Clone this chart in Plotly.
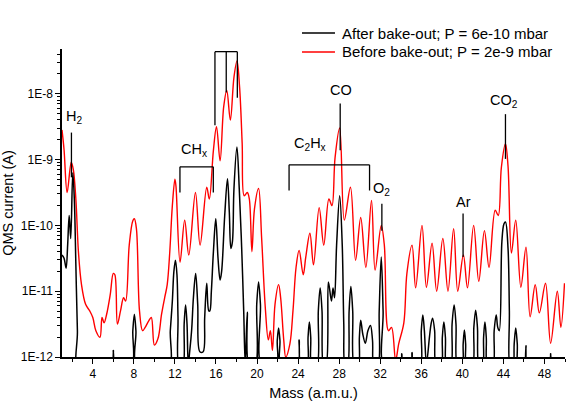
import plotly.graph_objects as go

# ---------------- data (mass in a.m.u., log10 of QMS current in A) ----------------
before_mass = [1.0, 1.2, 1.5, 1.9, 2.1, 2.35, 2.6, 2.9, 3.3, 3.7, 4.0, 4.3, 4.7, 4.9, 5.1, 5.35,
               5.7, 6.0, 6.15, 6.4, 6.7, 7.0, 7.2, 7.55, 7.9, 8.05, 8.25, 8.55, 8.85, 9.1, 9.45,
               9.7, 10.0, 10.35, 10.7, 11.0, 11.25, 11.5, 11.75, 12.0, 12.1, 12.5, 12.95, 13.35,
               14.0, 14.45, 15.1, 15.35, 15.75, 16.05, 16.4, 16.75, 17.05, 17.4, 17.75, 18.05,
               18.3, 18.55, 18.75, 19.05, 19.25, 19.5, 19.75, 20.15, 20.45, 20.8, 21.1, 21.3,
               21.5, 21.75, 22.1, 22.3, 22.6, 22.8, 23.2, 23.5, 23.8, 24.1, 24.5, 24.75, 25.15,
               25.5, 26.05, 26.5, 27.0, 27.3, 27.6, 28.05, 28.5, 29.1, 29.6, 30.1, 30.6, 31.15,
               31.5, 32.1, 32.4, 32.8, 33.1, 33.5, 33.8, 34.3, 34.6, 35.1, 35.45, 36.07, 36.5,
               37.05, 37.5, 38.1, 38.6, 39.15, 39.55, 40.1, 40.5, 41.1, 41.6, 42.15, 42.6, 43.2,
               43.5, 43.8, 44.2, 44.45, 44.78, 45.2, 45.7, 46.2, 46.6, 47.1, 47.5, 48.1, 48.6,
               49.25, 49.6, 49.95]
before_log_current = [-8.55, -8.85, -9.5, -9.04, -9.15, -9.6, -10.4, -10.9, -11.2, -11.3, -11.4,
                      -11.6, -11.7, -11.4, -11.48, -11.35, -11.05, -10.73, -10.75, -11.5, -11.3,
                      -11.1, -11.15, -10.3, -9.93, -9.9, -10.05, -11.3, -11.6, -11.55, -11.45,
                      -11.4, -11.82, -11.72, -11.35, -11.1, -10.9, -10.4, -9.7, -9.3, -9.4,
                      -10.56, -9.92, -10.45, -9.5, -10.3, -9.42, -9.6, -8.86, -8.5, -9.02, -8.2,
                      -7.95, -8.4, -7.75, -7.5, -7.9, -8.75, -9.55, -9.5, -9.6, -10.4, -9.75,
                      -9.44, -10.2, -11.24, -11.74, -11.6, -11.9, -11.2, -10.9, -11.1, -11.74,
                      -12.0, -11.8, -11.3, -10.64, -10.38, -10.75, -10.48, -10.12, -10.6, -9.73,
                      -10.3, -9.6, -9.7, -8.97, -8.52, -9.92, -9.42, -10.53, -9.88, -10.64,
                      -9.62, -10.68, -10.0, -10.3, -11.6, -11.55, -12.05, -11.8, -11.48, -10.73,
                      -10.3, -10.95, -10.0, -10.94, -10.27, -11.0, -10.2, -11.0, -10.05, -11.0,
                      -10.45, -10.95, -10.0, -10.85, -10.08, -10.64, -9.77, -9.85, -9.12, -8.76,
                      -9.1, -10.42, -9.92, -10.94, -10.33, -11.39, -10.9, -11.33, -10.88, -11.79,
                      -11.0, -11.55, -10.88]

after_mass = [1.0, 1.2, 1.4, 1.55, 1.7, 1.85, 2.05, 2.2, 2.35, 2.5, 2.65,
              5.85, 6.0, 6.15,
              7.75, 7.9, 8.05, 8.2, 8.35,
              11.35, 11.55, 11.75, 11.9, 12.05, 12.2, 12.3, 12.42,
              12.75, 12.9, 13.04, 13.18, 13.3,
              13.45, 13.63, 13.8, 14.02, 14.22, 14.43, 14.75, 14.9, 15.1, 15.3, 15.4, 15.55,
              15.75, 15.98, 16.2, 16.4, 16.55, 16.85, 17.12, 17.3, 17.45, 17.6, 17.75, 18.04,
              18.27, 18.5, 18.7, 18.85, 19.05, 19.25,
              19.8, 19.97, 20.15, 20.33, 20.5,
              21.85, 21.97, 22.1, 22.23, 22.35,
              23.9, 24.1, 24.3,
              24.85, 24.97, 25.1, 25.23, 25.35,
              25.8, 25.97, 26.15, 26.33, 26.5,
              26.7, 26.95, 27.25, 27.4, 27.55, 27.75, 28.05, 28.3, 28.45, 28.6,
              28.8, 28.97, 29.14, 29.32, 29.5,
              29.85, 29.97, 30.1, 30.3, 30.55, 30.8, 31.05, 31.25, 31.4,
              31.75, 31.9, 32.1, 32.28, 32.42,
              33.95, 34.1, 34.25, 34.95, 35.1, 35.25,
              35.88, 36.0, 36.15, 36.3, 36.5, 36.8, 36.95, 37.1, 37.3, 37.48,
              37.92, 38.05, 38.2, 38.35, 38.48,
              38.85, 39.0, 39.2, 39.38, 39.55,
              39.97, 40.08, 40.2, 40.32, 40.43,
              40.95, 41.12, 41.3, 41.47, 41.65,
              41.95, 42.07, 42.2, 42.33, 42.48,
              42.95, 43.1, 43.3, 43.45, 43.6, 43.85, 44.05, 44.2, 44.45, 44.58, 44.68,
              44.92, 45.05, 45.2, 45.35, 45.48,
              46.05, 46.2, 46.35,
              48.5, 48.6, 48.7, 50.0]
after_log_current = [-10.45, -10.5, -10.65, -10.3, -9.85, -10.2, -9.2, -9.6, -10.6, -11.6, -12.2,
                     -12.15, -11.9, -12.15,
                     -12.15, -11.6, -11.35, -11.6, -12.15,
                     -12.15, -11.6, -11.15, -10.7, -10.53, -10.75, -11.4, -12.15,
                     -12.15, -11.5, -11.21, -11.5, -12.1,
                     -11.9, -11.59, -11.1, -10.73, -11.2, -11.92, -11.92, -11.4, -10.88, -11.3,
                     -11.3, -11.0,
                     -10.4, -9.9, -10.5, -10.83, -10.7, -9.85, -9.29, -9.8, -10.35, -10.25, -9.45,
                     -8.81, -9.45, -10.33, -11.3, -12.1, -11.32, -12.15,
                     -12.15, -11.2, -10.86, -11.2, -12.15,
                     -12.15, -11.75, -11.56, -11.75, -12.15,
                     -12.15, -11.74, -12.15,
                     -12.15, -11.7, -11.47, -11.7, -12.15,
                     -12.15, -11.3, -10.95, -11.3, -12.15,
                     -12.15, -10.86, -11.15, -10.95, -11.1, -10.3, -9.55, -10.3, -11.5, -12.15,
                     -12.15, -11.3, -10.93, -11.3, -12.15,
                     -12.15, -11.7, -11.44, -11.65, -11.79, -11.6, -11.52, -11.75, -12.15,
                     -12.15, -11.3, -10.48, -11.3, -12.15,
                     -12.15, -11.95, -12.15, -12.15, -11.93, -12.15,
                     -12.15, -11.6, -11.36, -11.6, -12.1, -11.69, -11.5, -11.41, -11.6, -12.15,
                     -12.15, -11.7, -11.47, -11.7, -12.15,
                     -12.15, -11.5, -11.21, -11.5, -12.15,
                     -12.15, -11.8, -11.59, -11.8, -12.15,
                     -12.15, -11.55, -11.29, -11.55, -12.15,
                     -12.15, -11.7, -11.47, -11.7, -12.15,
                     -12.15, -11.6, -11.36, -11.55, -11.6, -10.25, -9.98, -9.95, -10.35, -11.3,
                     -12.15,
                     -12.15, -11.8, -11.56, -11.8, -12.15,
                     -12.15, -11.83, -12.15,
                     -12.15, -11.95, -12.15, -12.15]

before_label = "Before bake-out; P = 2e-9 mbar"
after_label = "After bake-out; P = 6e-10 mbar"

y_tick_exponents = [-12, -11, -10, -9, -8]
y_tick_text = ["1E-12", "1E-11", "1E-10", "1E-9", "1E-8"]
x_ticks = [4, 8, 12, 16, 20, 24, 28, 32, 36, 40, 44, 48]
x_minor_ticks = [2, 6, 10, 14, 18, 22, 26, 30, 34, 38, 42, 46, 50]

# peak labels: text, text position (mass, log10 I), marker line (mass, log10 top, log10 bottom)
peak_labels = ["H<sub>2</sub>", "CO", "O<sub>2</sub>", "Ar", "CO<sub>2</sub>"]
peak_text_pos = [(2.2, -8.35), (28.2, -7.95), (32.1, -9.44), (40.13, -9.65), (44.07, -8.11)]
peak_lines = [(1.92, -8.59, -9.27), (28.1, -8.15, -8.86), (32.16, -9.67, -10.08),
              (40.07, -9.82, -10.48), (44.2, -8.31, -8.99)]

# group brackets: text, text position, bracket bar level, legs (mass, bottom level)
group_labels = ["CH<sub>x</sub>", "H<sub>2</sub>O", "C<sub>2</sub>H<sub>x</sub>"]
group_text_pos = [(13.85, -8.86), (17.17, -7.05), (25.17, -8.76)]
group_bar_level = [-9.11, -7.36, -9.08]
group_legs = [[(12.49, -9.5), (15.74, -9.5)],
              [(15.9, -8.48), (17.0, -7.98), (18.08, -8.06)],
              [(23.12, -9.47), (30.96, -9.47)]]

# ---------------- figure ----------------
fig = go.Figure()
fig.add_trace(go.Scatter(
    x=before_mass, y=[10 ** v for v in before_log_current], mode="lines",
    line=dict(color="#ff0000", width=1.4, shape="spline", smoothing=1.0),
    name=before_label, showlegend=False))
fig.add_trace(go.Scatter(
    x=after_mass, y=[10 ** v for v in after_log_current], mode="lines",
    line=dict(color="#000000", width=1.5, shape="spline", smoothing=1.0),
    name=after_label, showlegend=False))

font_family = "Liberation Sans, Arial, sans-serif"
line_style = dict(color="black", width=1.3)

for (m, top, bot) in peak_lines:
    fig.add_shape(type="line", x0=m, x1=m, y0=10 ** top, y1=10 ** bot, xref="x", yref="y",
                  line=line_style)
for txt, (m, lv) in zip(peak_labels, peak_text_pos):
    fig.add_annotation(x=m, y=lv, text=txt, showarrow=False, xref="x", yref="y",
                       font=dict(size=14.5, color="black", family=font_family))

for txt, (m, lv), bar, legs in zip(group_labels, group_text_pos, group_bar_level, group_legs):
    fig.add_shape(type="line", x0=legs[0][0], x1=legs[-1][0], y0=10 ** bar, y1=10 ** bar,
                  xref="x", yref="y", line=line_style)
    for (lm, lb) in legs:
        fig.add_shape(type="line", x0=lm, x1=lm, y0=10 ** bar, y1=10 ** lb, xref="x", yref="y",
                      line=line_style)
    fig.add_annotation(x=m, y=lv, text=txt, showarrow=False, xref="x", yref="y",
                       font=dict(size=14.5, color="black", family=font_family))

# manual legend (paper coordinates)
legend_entries = [(after_label, "#000000", 1.0519), (before_label, "#ff0000", 0.9903)]
for label, color, yp in legend_entries:
    fig.add_shape(type="line", xref="paper", yref="paper", x0=0.4771, x1=0.5427, y0=yp, y1=yp,
                  line=dict(color=color, width=1.5))
    fig.add_annotation(xref="paper", yref="paper", x=0.5527, y=yp, text=label,
                       showarrow=False, xanchor="left", yanchor="middle",
                       font=dict(size=15, color="black", family=font_family))

minor_y = [k * 10 ** e for e in [-12, -11, -10, -9, -8] for k in range(2, 10)]

fig.update_layout(
    width=570, height=404,
    margin=dict(l=62, r=5, t=49, b=47),
    paper_bgcolor="white", plot_bgcolor="white",
    font=dict(family=font_family, color="black", size=14),
    showlegend=False,
    xaxis=dict(
        range=[1, 50], tickmode="array", tickvals=x_ticks,
        ticks="outside", ticklen=5, tickwidth=1.3, tickcolor="black",
        showline=True, linecolor="black", linewidth=1.5, showgrid=False, zeroline=False,
        tickfont=dict(size=12),
        minor=dict(tickmode="array", tickvals=x_minor_ticks,
                   ticks="outside", ticklen=3, tickwidth=1.2, tickcolor="black", showgrid=False),
        title=dict(text="Mass (a.m.u.)", font=dict(size=14.5), standoff=8),
    ),
    yaxis=dict(
        type="log", range=[-12, -7.32], tickmode="array",
        tickvals=[10 ** e for e in y_tick_exponents], ticktext=y_tick_text,
        ticks="outside", ticklen=5, tickwidth=1.3, tickcolor="black",
        showline=True, linecolor="black", linewidth=1.5, showgrid=False, zeroline=False,
        tickfont=dict(size=12),
        minor=dict(tickmode="array", tickvals=minor_y, ticks="outside", ticklen=3,
                   tickwidth=1, tickcolor="black", showgrid=False),
        title=dict(text="QMS current (A)", font=dict(size=14.5), standoff=4),
    ),
)

fig.write_html("out.html")
